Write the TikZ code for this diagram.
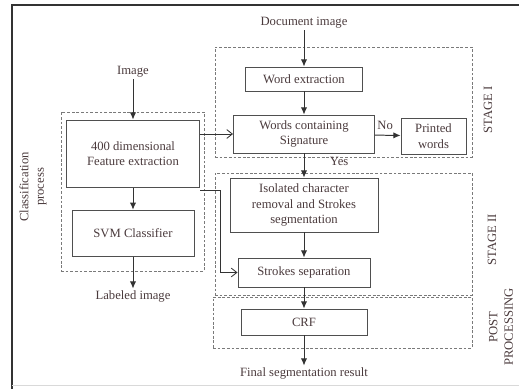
\documentclass[tikz,border=0pt]{standalone}
\usepackage{fontspec}
\setmainfont{Liberation Serif}
\usetikzlibrary{arrows.meta}
\definecolor{ink}{HTML}{4A3A3C}
\definecolor{edge}{HTML}{4F4F4F}
\definecolor{dashc}{HTML}{7A7A7A}
\definecolor{frame}{HTML}{333333}
\tikzset{
  blk/.style={rectangle, draw=edge, line width=0.7pt, align=center, text=ink,
              inner sep=2pt, font=\small},
  grp/.style={rectangle, draw=dashc, line width=0.6pt, dash pattern=on 2pt off 1.3pt,
              inner sep=0pt},
  lbl/.style={text=ink, font=\small, inner sep=1pt, align=center},
  side/.style={text=ink, font=\small, inner sep=1pt, align=center, rotate=90},
  fl/.style={-{Latex[length=1.8mm, width=1.6mm]}, draw=frame, line width=0.7pt},
  ol/.style={-{Straight Barb[length=1.4mm, width=2.2mm]}, draw=frame, line width=0.6pt},
}

\begin{document}
\begin{tikzpicture}
\useasboundingbox (0,0) rectangle (12.975,-9.725);
% page frame
\draw[frame, line width=1.2pt] (0.3,-9.725) -- (0.3,-0.125) -- (12.975,-0.125);
\draw[black!15, line width=0.5pt] (0.3,-9.63) -- (12.975,-9.63);

% groups
\node[grp, minimum width=3.575cm, minimum height=3.975cm] (cls) at (3.3125,-4.7875) {};
\node[grp, minimum width=6.425cm, minimum height=2.75cm]  (st1) at (8.5875,-2.55) {};
\node[grp, minimum width=6.425cm, minimum height=3.05cm]  (st2) at (8.5875,-5.85) {};
\node[grp, minimum width=6.475cm, minimum height=1.275cm] (pp)  at (8.5625,-8.0625) {};

% classification process
\node[lbl] (img) at (3.325,-1.8) {Image};
\node[blk, minimum width=3.33cm, minimum height=1.68cm] (feat) at (3.325,-3.84) {400 dimensional\\Feature extraction};
\node[blk, minimum width=3.05cm, minimum height=1.15cm] (svm) at (3.325,-5.83) {SVM Classifier};
\node[lbl] (lab) at (3.325,-7.4) {Labeled image};
\node[side] (clst) at (0.825,-4.675) {Classification\\process};

% stage I
\node[lbl] (doc) at (7.6,-0.575) {Document image};
\node[blk, minimum width=2.925cm, minimum height=0.6cm] (we) at (7.6,-1.975) {Word extraction};
\node[blk, minimum width=3.525cm, minimum height=0.95cm, inner sep=1pt] (wcs) at (7.6,-3.35) {Words containing\\Signature};
\node[blk, minimum width=1.625cm, minimum height=0.9cm, inner sep=1pt] (pw) at (10.8375,-3.4) {Printed\\words};
\node[side] (s1) at (12.2,-2.75) {STAGE I};

% stage II
\node[blk, minimum width=3.7cm, minimum height=1.35cm, inner sep=1pt] (iso) at (7.6,-5.125) {Isolated character\\removal and Strokes\\segmentation};
\node[blk, minimum width=3.3cm, minimum height=0.725cm] (sep) at (7.6,-6.8125) {Strokes separation};
\node[side] (s2) at (12.3,-6.0) {STAGE II};

% post processing
\node[blk, minimum width=3.15cm, minimum height=0.65cm] (crf) at (7.6,-8.05) {CRF};
\node[side] (s3) at (12.525,-8.175) {POST\\PROCESSING};
\node[lbl] (fin) at (7.6,-9.325) {Final segmentation result};

\draw[fl] (img) -- (feat);
\draw[fl] (feat) -- (svm);
\draw[fl] (svm) -- (lab);
\draw[fl] (doc) -- (we);
\draw[fl] (we) -- (wcs);
\draw[fl] (wcs) -- node[lbl, above, pos=0.4, yshift=3pt] (no) {No} (pw);
\draw[fl] (wcs) -- node[lbl, right, pos=0.35, xshift=0.6cm] (yes) {Yes} (iso);
\draw[fl] (iso) -- (sep);
\draw[fl] (sep) -- (crf);
\draw[fl] (crf) -- (fin);
\draw[ol] (feat.east |- wcs.west) -- (wcs.west);
\draw[ol] ([yshift=-2pt]feat.south east) -- ++(0.5,0) |- (sep.west);
\end{tikzpicture}
\end{document}
